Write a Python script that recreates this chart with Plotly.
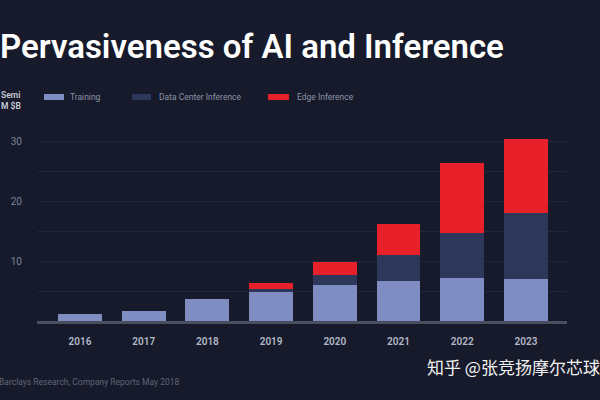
import plotly.graph_objects as go

years = ["2016", "2017", "2018", "2019", "2020", "2021", "2022", "2023"]
training = [1.2, 1.7, 3.7, 4.8, 6.0, 6.6, 7.2, 7.05]
dc_inference = [0.0, 0.0, 0.0, 0.5, 1.7, 4.4, 7.4, 11.0]
edge_inference = [0.0, 0.0, 0.0, 1.0, 2.2, 5.2, 11.7, 12.3]

series_names = ["Training", "Data Center Inference", "Edge Inference"]
series_colors = ["#7f8dc3", "#2d375a", "#e8202a"]

y_tickvals = [5, 10, 15, 20, 25, 30]
y_ticktext = ["", "10", "", "20", "", "30"]

BG = "#161a2a"
W, H = 600, 400
ML, MR, MT, MB = 37, 33, 123, 79
PW, PH = W - ML - MR, H - MT - MB

fig = go.Figure()
for name, vals, col in zip(series_names, [training, dc_inference, edge_inference], series_colors):
    fig.add_trace(go.Bar(x=years, y=vals, name=name, marker=dict(color=col, line=dict(width=0)),
                         showlegend=False))

fig.update_layout(
    width=W, height=H,
    margin=dict(l=ML, r=MR, t=MT, b=MB, pad=0),
    paper_bgcolor=BG, plot_bgcolor=BG,
    barmode="stack", bargap=0.31,
    font=dict(family="Roboto, Inter, sans-serif"),
    xaxis=dict(
        type="category", range=[-0.675, 7.645], showgrid=False, zeroline=False,
        showline=True, linecolor="#4a4f60", linewidth=3,
        tickfont=dict(size=10, color="#b4b9c9", family="Roboto", weight=600),
        ticks="", ticklabelstandoff=9,
    ),
    yaxis=dict(
        range=[0, 33], tickvals=y_tickvals, ticktext=y_ticktext,
        showgrid=True, gridcolor="#20253a", gridwidth=1, zeroline=False,
        tickfont=dict(size=10, color="#7d8398", family="Roboto"),
        ticks="", ticklabelstandoff=14, showline=False,
    ),
)

def px(x):
    return (x - ML) / PW

def py(y):
    return (H - MB - y) / PH

shapes = []
annotations = []

# Title
annotations.append(dict(text="Pervasiveness of AI and Inference", xref="paper", yref="paper",
                        x=px(-2), y=py(46), xanchor="left", yanchor="middle", showarrow=False,
                        font=dict(size=33, color="#ffffff", family="Roboto", weight=600)))
# unit label
annotations.append(dict(text="Semi<br>M $B", xref="paper", yref="paper", x=px(-1), y=py(100),
                        xanchor="left", yanchor="middle", showarrow=False, align="left",
                        font=dict(size=8.5, color="#c8ccd8", family="Roboto", weight=600)))

# Legend swatches and labels
leg = [(44, 64, 68), (132, 151, 157), (268, 289, 295)]
for (x0, x1, tx), name, col in zip(leg, series_names, series_colors):
    shapes.append(dict(type="rect", xref="paper", yref="paper", x0=px(x0), x1=px(x1),
                       y0=py(100), y1=py(94), fillcolor=col, line=dict(width=0)))
    annotations.append(dict(text=name, xref="paper", yref="paper", x=px(tx), y=py(97),
                            xanchor="left", yanchor="middle", showarrow=False,
                            font=dict(size=8.5, color="#8d93a8", family="Roboto")))

# Footer
annotations.append(dict(text="Barclays Research, Company Reports May 2018", xref="paper", yref="paper",
                        x=px(-3), y=py(382), xanchor="left", yanchor="middle", showarrow=False,
                        font=dict(size=8.5, color="#5f6579", family="Roboto")))
# Watermark
annotations.append(dict(text="知乎 @张竞扬摩尔芯球", xref="paper", yref="paper",
                        x=px(425), y=py(366), xanchor="left", yanchor="middle", showarrow=False,
                        font=dict(size=17, color="#f2f2f2", family="Noto Sans CJK SC")))

fig.update_layout(shapes=shapes, annotations=annotations)

fig.write_html("out.html")
